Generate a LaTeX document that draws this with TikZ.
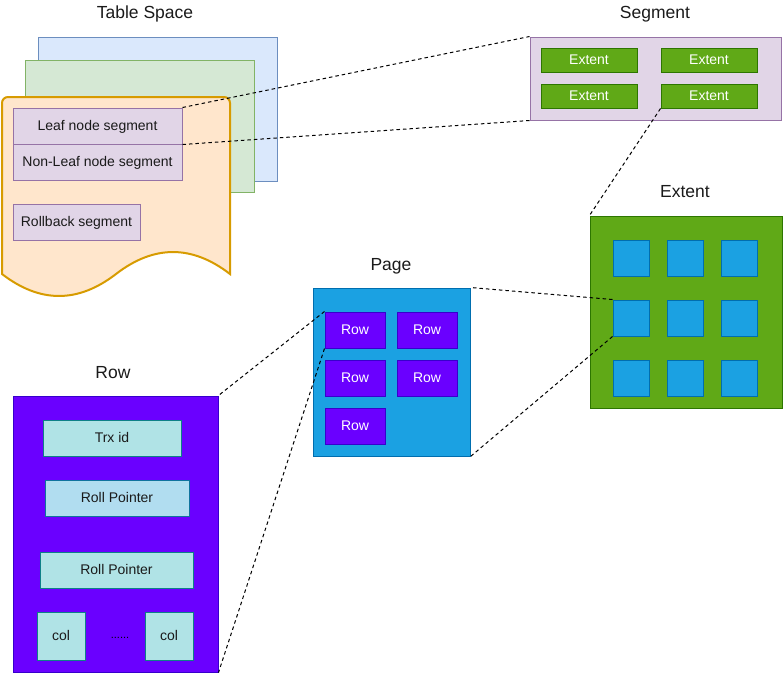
\documentclass[tikz,border=0pt]{standalone}
\usepackage{fontspec}
\setmainfont{Liberation Sans}
\definecolor{tsblue}{HTML}{DAE8FC}
\definecolor{tsblueline}{HTML}{6C8EBF}
\definecolor{tsgreen}{HTML}{D5E8D4}
\definecolor{tsgreenline}{HTML}{82B366}
\definecolor{docfill}{HTML}{FFE6CC}
\definecolor{docline}{HTML}{D79B00}
\definecolor{segfill}{HTML}{E1D5E7}
\definecolor{segline}{HTML}{9673A6}
\definecolor{extfill}{HTML}{60A917}
\definecolor{extline}{HTML}{2D7600}
\definecolor{pagefill}{HTML}{1BA1E2}
\definecolor{pageline}{HTML}{006EAF}
\definecolor{rowfill}{HTML}{6A00FF}
\definecolor{rowline}{HTML}{3700CC}
\definecolor{fldfill}{HTML}{B0E3E6}
\definecolor{fldline}{HTML}{0E8088}
\definecolor{ptrfill}{HTML}{B1DDF0}
\definecolor{ptrline}{HTML}{10739E}
\definecolor{titlecol}{HTML}{1A1A1A}
\begin{document}
\begin{tikzpicture}[x=1pt,y=-1pt,line width=1pt,
  rect/.style={draw,inner sep=0pt,anchor=center,text height=11.5pt,text depth=2pt,font=\fontsize{14}{16}\selectfont},
  title/.style={text height=13pt,text depth=2pt,font=\fontsize{17.5}{20}\selectfont,text=titlecol},
  seg/.style={rect,fill=segfill,draw=segline,text=titlecol},
  ext/.style={rect,fill=extfill,draw=extline,text=white},
  pg/.style={rect,fill=pagefill,draw=pageline},
  rw/.style={rect,fill=rowfill,draw=rowline,text=white},
  fld/.style={rect,fill=fldfill,draw=fldline,text=titlecol},
  link/.style={dashed,line width=1pt,dash pattern=on 3.5pt off 3pt}]
  \useasboundingbox (0,0) rectangle (783,675);
  \node[title] (tstitle) at (145,13) {Table Space};
  \draw[fill=tsblue,draw=tsblueline] (38,37) rectangle (277,181);
  \draw[fill=tsgreen,draw=tsgreenline] (25,60) rectangle (254,192);
  \draw[fill=docfill,draw=docline,line width=2pt] (2,274) -- (2,103)
    arc[start angle=180,end angle=270,radius=6] -- (224,97)
    arc[start angle=270,end angle=360,radius=6] -- (230,274)
    .. controls (192,244.7) and (154,244.7) .. (116,274)
    .. controls (78,303.3) and (40,303.3) .. (2,274) -- cycle;
  \node[seg,minimum width=169,minimum height=36] (leaf) at (97.5,126) {Leaf node segment};
  \node[seg,minimum width=169,minimum height=36] (nonleaf) at (97.5,162) {Non-Leaf node segment};
  \node[seg,minimum width=127,minimum height=36] (rollback) at (76.5,222) {Rollback segment};

  \node[title] (segtitle) at (655,13) {Segment};
  \node[seg,minimum width=251,minimum height=83] (segment) at (655.5,78.5) {};
  \node[ext,minimum width=96,minimum height=24] (ext1) at (589,60) {Extent};
  \node[ext,minimum width=96,minimum height=24] (ext2) at (709,60) {Extent};
  \node[ext,minimum width=96,minimum height=24] (ext3) at (589,96) {Extent};
  \node[ext,minimum width=96,minimum height=24] (ext4) at (709,96) {Extent};

  \node[title] (exttitle) at (685,192) {Extent};
  \node[ext,minimum width=192,minimum height=192] (extent) at (686,312) {};
  \foreach \r/\y in {1/258,2/318,3/378}
    \foreach \c/\x in {1/631,2/685,3/739}
      \node[pg,minimum width=36,minimum height=36] (sq\r\c) at (\x,\y) {};

  \node[title] (pagetitle) at (391,265) {Page};
  \node[pg,minimum width=157,minimum height=168] (page) at (391.5,372) {};
  \node[rw,minimum width=60,minimum height=36] (row1) at (355,330) {Row};
  \node[rw,minimum width=60,minimum height=36] (row2) at (427,330) {Row};
  \node[rw,minimum width=60,minimum height=36] (row3) at (355,378) {Row};
  \node[rw,minimum width=60,minimum height=36] (row4) at (427,378) {Row};
  \node[rw,minimum width=60,minimum height=36] (row5) at (355,426) {Row};

  \node[title] (rowtitle) at (113,373) {Row};
  \node[rw,minimum width=205,minimum height=276] (rowbox) at (115.5,534) {};
  \node[fld,minimum width=138,minimum height=36] (trx) at (112,438) {Trx id};
  \node[fld,fill=ptrfill,draw=ptrline,minimum width=144,minimum height=36] (ptr1) at (117,498) {Roll Pointer};
  \node[fld,minimum width=153,minimum height=36] (ptr2) at (116.5,570) {Roll Pointer};
  \node[fld,minimum width=48,minimum height=48] (col1) at (61,636) {col};
  \node[fld,minimum width=48,minimum height=48] (col2) at (169,636) {col};
  \node[font=\fontsize{11}{12}\selectfont,text=black,inner sep=0pt] (dots) at (120,638) {......};

  \draw[link] (leaf.north east) -- (segment.north west);
  \draw[link] (leaf.south east) -- (segment.south west);
  \draw[link] (ext4.south west) -- (extent.north west);
  \draw[link] (sq21.north west) -- (page.north east);
  \draw[link] (sq21.south west) -- (page.south east);
  \draw[link] (row1.north west) -- (rowbox.north east);
  \draw[link] (row1.south west) -- (rowbox.south east);
\end{tikzpicture}
\end{document}
